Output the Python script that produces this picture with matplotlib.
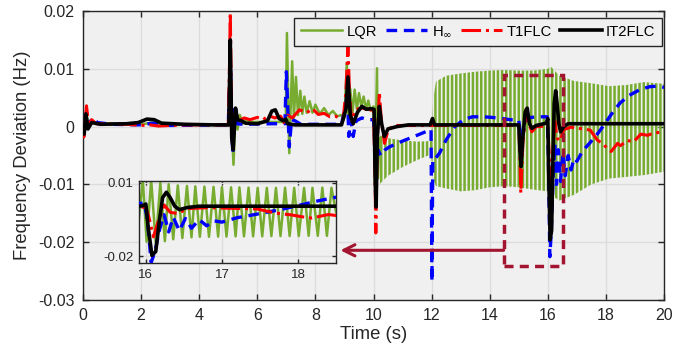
import matplotlib
matplotlib.use('Agg')
import matplotlib.pyplot as plt
from matplotlib.patches import Rectangle

# Fuentes tipo Helvetica (MATLAB)
plt.rcParams['font.family'] = ['Liberation Sans', 'DejaVu Sans']
plt.rcParams['hatch.linewidth'] = 1.8

# ==========================================
# DATOS
# ==========================================
# IT2FLC
it2_t = [0.0, 0.04, 0.10, 0.17, 0.30, 0.60, 1.50, 1.90, 2.20, 2.45, 2.70, 3.50, 4.50,
         5.02, 5.07, 5.12, 5.17, 5.25, 5.32, 5.45, 5.60, 6.00, 6.35, 6.50, 6.62, 6.75,
         6.90, 6.98, 7.04, 7.30, 8.90, 9.05, 9.12, 9.20, 9.30, 9.45, 9.60, 9.75, 9.90,
         10.02, 10.06, 10.09, 10.13, 10.20, 10.28, 10.37, 10.50, 10.80, 11.20, 11.95,
         12.03, 12.10, 15.00, 15.04, 15.08, 15.14, 15.22, 15.29, 15.37, 15.45, 15.60,
         15.95, 16.00, 16.03, 16.08, 16.13, 16.18, 16.22, 16.27, 16.32, 16.38, 16.44,
         16.55, 16.70, 20.0]
it2_v = [0.0, -0.0013, 0.0022, -0.0004, 0.0007, 0.0004, 0.0005, 0.0007, 0.0013, 0.0012,
         0.0006, 0.0004, 0.0003, 0.0003, 0.0150, -0.0020, -0.0040, 0.0032, 0.0012, 0.0010,
         0.0006, 0.0005, 0.0010, 0.0027, 0.0029, 0.0014, 0.0010, 0.0013, 0.0005, 0.0003,
         0.0003, 0.0030, 0.0086, 0.0020, 0.0005, 0.0025, 0.0035, 0.0030, 0.0031, 0.0030,
         -0.0100, -0.0139, -0.0020, 0.0035, 0.0005, -0.0017, -0.0004, 0.0000, 0.0003,
         0.0003, 0.0014, 0.0003, 0.0003, -0.0040, -0.0069, -0.0020, 0.0025, 0.0032,
         0.0005, -0.0003, 0.0002, 0.0006, 0.0014, -0.0080, -0.0196, -0.0180, -0.0050,
         0.0040, 0.0062, 0.0040, 0.0005, -0.0009, 0.0000, 0.0005, 0.0005]

# T1FLC
t1_t = [0.0, 0.03, 0.12, 0.20, 0.30, 0.45, 1.50, 2.00, 2.30, 2.60, 3.50, 5.00, 5.04,
        5.07, 5.11, 5.16, 5.25, 5.35, 5.55, 5.75, 6.00, 6.20, 6.40, 6.60, 6.80, 6.98,
        7.05, 7.20, 7.45, 7.70, 7.90, 8.10, 8.30, 8.50, 8.70, 8.95, 9.05, 9.12, 9.18,
        9.25, 9.40, 9.60, 9.80, 10.00, 10.05, 10.08, 10.13, 10.20, 10.27, 10.38, 10.50,
        10.70, 12.00, 15.00, 15.04, 15.07, 15.14, 15.25, 15.35, 15.45, 15.60, 16.00,
        16.04, 16.10, 16.16, 16.24, 16.32, 16.42, 16.55, 16.80, 17.20, 17.46, 17.70,
        17.90, 18.05, 18.18, 18.40, 18.50, 18.73, 18.96, 19.20, 19.43, 19.66, 20.0]
t1_v = [0.0, -0.0018, 0.0036, 0.0000, 0.0012, 0.0005, 0.0004, 0.0002, 0.0003, 0.0001,
        0.0003, 0.0003, 0.0100, 0.0197, 0.0030, -0.0017, 0.0030, 0.0010, 0.0015, 0.0012,
        0.0016, 0.0012, 0.0019, 0.0015, 0.0018, 0.0002, 0.0020, 0.0015, 0.0029, 0.0024,
        0.0031, 0.0021, 0.0023, 0.0017, 0.0018, 0.0011, 0.0060, 0.0138, 0.0050, 0.0010,
        0.0030, 0.0032, 0.0030, 0.0028, -0.0080, -0.0184, -0.0020, 0.0060, 0.0010,
        -0.0029, -0.0006, 0.0002, 0.0002, 0.0002, -0.0050, -0.0115, -0.0030, 0.0030,
        0.0005, -0.0009, 0.0000, 0.0001, -0.0040, -0.0120, -0.0060, 0.0010, -0.0020,
        -0.0025, -0.0005, -0.0001, -0.0004, -0.0006, -0.0023, -0.0030, -0.0038, -0.0043,
        -0.0029, -0.0033, -0.0024, -0.0026, -0.0013, -0.0015, -0.0011, -0.0009]

# H infinito
hinf_t = [0.0, 0.04, 0.12, 0.20, 0.32, 0.50, 1.00, 2.00, 2.40, 3.00, 5.00, 5.05, 5.08,
          5.12, 5.16, 5.22, 5.30, 5.50, 6.50, 6.95, 7.00, 7.05, 7.10, 7.18, 7.30, 7.50,
          8.90, 9.05, 9.10, 9.15, 9.22, 9.30, 9.40, 9.60, 9.80, 10.00, 10.05, 10.10,
          10.15, 10.25, 10.40, 10.55, 11.00, 11.50, 11.98, 12.01, 12.04, 12.10, 12.27,
          12.50, 12.80, 13.10, 13.40, 13.80, 14.30, 14.70, 15.00, 15.08, 15.30, 15.60,
          15.98, 16.02, 16.07, 16.12, 16.18, 16.24, 16.30, 16.36, 16.44, 16.52, 16.60,
          16.70, 16.80, 16.90, 17.00, 17.20, 17.45, 17.75, 18.02, 18.25, 18.49, 18.80,
          19.17, 19.50, 19.75, 20.0]
hinf_v = [0.0, -0.0010, 0.0025, 0.0003, 0.0015, 0.0007, 0.0004, 0.0003, 0.0006, 0.0002,
          0.0003, 0.0080, 0.0100, -0.0010, -0.0048, 0.0030, 0.0005, 0.0004, 0.0005,
          0.0005, 0.0095, 0.0030, -0.0035, 0.0012, 0.0010, 0.0004, 0.0004, 0.0040,
          0.0058, -0.0017, 0.0012, -0.0017, 0.0010, 0.0015, 0.0012, 0.0012, -0.0030,
          -0.0060, -0.0040, -0.0050, -0.0040, -0.0035, -0.0025, -0.0015, -0.0005,
          -0.0268, -0.0057, -0.0057, -0.0046, -0.0023, 0.0000, 0.0012, 0.0017, 0.0017,
          0.0015, 0.0012, 0.0011, -0.0020, 0.0015, 0.0017, 0.0017, -0.0050, -0.0225,
          -0.0180, -0.0090, -0.0030, -0.0100, -0.0040, -0.0095, -0.0045, -0.0085,
          -0.0050, -0.0075, -0.0055, -0.0060, -0.0042, -0.0028, -0.0010, 0.0009, 0.0026,
          0.0041, 0.0054, 0.0064, 0.0069, 0.0070, 0.0068]

# LQR: tramo de linea (0 - 10.2 s)
lqr_t = [0.0, 0.05, 0.12, 0.20, 0.30, 0.50, 2.00, 2.40, 3.00, 5.00, 5.04, 5.07, 5.12,
         5.18, 5.25, 5.32, 5.40, 5.50, 5.60, 5.80, 6.50, 6.98, 7.02, 7.10, 7.20, 7.26,
         7.33, 7.40, 7.48, 7.55, 7.62, 7.70, 7.80, 7.90, 8.00, 8.15, 8.30, 8.45, 8.60,
         8.75, 8.90, 9.00, 9.08, 9.14, 9.20, 9.27, 9.35, 9.43, 9.50, 9.58, 9.66, 9.74,
         9.82, 9.90, 10.00, 10.05, 10.12, 10.15, 10.20]
lqr_v = [0.0, -0.0010, 0.0020, 0.0003, 0.0010, 0.0006, 0.0004, 0.0007, 0.0003, 0.0003,
         0.0090, 0.0130, 0.0000, -0.0066, 0.0025, -0.0005, 0.0020, 0.0005, 0.0012,
         0.0008, 0.0008, 0.0008, 0.0162, -0.0046, 0.0113, 0.0015, 0.0086, 0.0020,
         0.0062, 0.0022, 0.0052, 0.0024, 0.0044, 0.0024, 0.0038, 0.0022, 0.0032, 0.0020,
         0.0027, 0.0018, 0.0020, 0.0015, 0.0110, 0.0010, 0.0065, 0.0020, 0.0064, 0.0030,
         0.0058, 0.0035, 0.0052, 0.0030, 0.0045, 0.0028, 0.0035, -0.0098, 0.0101,
         -0.0090, -0.0020]

# LQR: envolvente de la oscilacion rapida (10.2 - 20 s)
band_t = [10.2, 10.5, 11.0, 11.5, 11.98, 12.05, 12.15, 12.5, 13.0, 13.5, 14.0, 14.5,
          15.0, 15.5, 16.0, 16.1, 16.4, 16.9, 17.5, 18.1, 18.7, 19.3, 20.0]
band_hi = [-0.0015, -0.0020, -0.0024, -0.0026, -0.0025, 0.0045, 0.0078, 0.0088, 0.0092,
           0.0095, 0.0097, 0.0098, 0.0097, 0.0097, 0.0100, 0.0104, 0.0088, 0.0079,
           0.0075, 0.0070, 0.0072, 0.0077, 0.0074]
band_lo = [-0.0100, -0.0085, -0.0070, -0.0058, -0.0048, -0.0090, -0.0103, -0.0107,
           -0.0112, -0.0110, -0.0105, -0.0103, -0.0105, -0.0109, -0.0112, -0.0118,
           -0.0128, -0.0118, -0.0100, -0.0090, -0.0087, -0.0084, -0.0078]

# LQR en el zoom: picos y valles
lqr_zoom_t = [15.90, 15.96, 16.01, 16.07, 16.13, 16.19, 16.25, 16.30, 16.36, 16.42,
              16.48, 16.54, 16.60, 16.65, 16.71, 16.77, 16.83, 16.89, 16.95, 17.00,
              17.06, 17.12, 17.18, 17.23, 17.29, 17.35, 17.41, 17.47, 17.53, 17.59,
              17.65, 17.71, 17.77, 17.83, 17.89, 17.95, 18.01, 18.08, 18.14, 18.19,
              18.26, 18.32, 18.38, 18.44, 18.50]
lqr_zoom_v = [-0.0080, 0.0115, -0.0140, 0.0112, -0.0145, 0.0100, -0.0138, 0.0095,
              -0.0130, 0.0090, -0.0125, 0.0088, -0.0122, 0.0086, -0.0120, 0.0085,
              -0.0120, 0.0084, -0.0119, 0.0083, -0.0119, 0.0082, -0.0118, 0.0082,
              -0.0118, 0.0081, -0.0118, 0.0080, -0.0118, 0.0080, -0.0117, 0.0080,
              -0.0117, 0.0081, -0.0117, 0.0080, -0.0117, 0.0080, -0.0116, 0.0080,
              -0.0116, 0.0081, -0.0116, 0.0080, -0.0020]

x_ticks = [0, 2, 4, 6, 8, 10, 12, 14, 16, 18, 20]
y_ticks = [-0.03, -0.02, -0.01, 0.0, 0.01, 0.02]
y_labels = ['-0.03', '-0.02', '-0.01', '0', '0.01', '0.02']
zoom_x_ticks = [16, 17, 18]
zoom_y_ticks = [-0.02, 0.01]
zoom_y_labels = ['-0.02', '0.01']
series_names = ['LQR', r'H$_\infty$', 'T1FLC', 'IT2FLC']

# zona ampliada (t0, t1, v0, v1) y flecha
box_t = [14.48, 16.53]
box_v = [-0.0241, 0.0089]
arrow_v = -0.0214
arrow_tip_t = 8.86

# ==========================================
# ESTILO
# ==========================================
C_LQR = '#77AC30'
C_HINF = '#0000FF'
C_T1 = '#FF0000'
C_IT2 = '#000000'
C_BOX = '#A2142F'
BG = '#F0F0F0'
GRID = '#DCDCDC'
DARK = '#262626'


def style_axes(ax, size, pad):
    ax.set_facecolor(BG)
    ax.grid(True, color=GRID, lw=1)
    ax.set_axisbelow(True)
    ax.tick_params(direction='in', top=True, right=True, length=4, width=1,
                   colors=DARK, labelsize=size, labelcolor=DARK, pad=pad)
    for s in ax.spines.values():
        s.set_color(DARK)
        s.set_linewidth(1)


def draw_series(ax):
    ax.plot(hinf_t, hinf_v, color=C_HINF, lw=2.4, ls=(0, (3.2, 2.0)), zorder=3)
    ax.plot(t1_t, t1_v, color=C_T1, lw=2.2, ls='-.', zorder=4)
    ax.plot(it2_t, it2_v, color=C_IT2, lw=2.6, zorder=5)


fig = plt.figure(figsize=(6.94, 3.49), dpi=100)
ax = fig.add_axes([0.1196, 0.1404, 0.8372, 0.828])
style_axes(ax, 11.5, 6)

# LQR
h_lqr, = ax.plot(lqr_t, lqr_v, color=C_LQR, lw=1.8, zorder=2)
ax.fill_between(band_t, band_lo, band_hi, facecolor='none', edgecolor=C_LQR,
                hatch='||||', lw=0, zorder=2)
h_hinf, = ax.plot([], [], color=C_HINF, lw=2.4, ls=(0, (3.2, 2.0)))
h_t1, = ax.plot([], [], color=C_T1, lw=2.2, ls='-.')
h_it2, = ax.plot([], [], color=C_IT2, lw=2.6)
draw_series(ax)

ax.add_patch(Rectangle((box_t[0], box_v[0]), box_t[1] - box_t[0], box_v[1] - box_v[0],
                       fill=False, edgecolor=C_BOX, lw=2.5, ls=(0, (2.6, 1.8)), zorder=6))
ax.annotate('', xy=(arrow_tip_t, arrow_v), xytext=(box_t[0], arrow_v),
            arrowprops=dict(arrowstyle='->,head_length=0.8,head_width=0.4',
                            color=C_BOX, lw=2.2, shrinkA=0, shrinkB=0), zorder=6)

ax.set_xlim(0, 20)
ax.set_ylim(-0.03, 0.02)
ax.set_xticks(x_ticks)
ax.set_yticks(y_ticks)
ax.set_yticklabels(y_labels)
ax.set_xlabel('Time (s)', fontsize=13.3, color=DARK, labelpad=2)
ax.set_ylabel('Frequency Deviation (Hz)', fontsize=13.3, color=DARK, labelpad=5)

leg = ax.legend([h_lqr, h_hinf, h_t1, h_it2], series_names, ncol=4, loc='upper right',
                bbox_to_anchor=(0.9966, 0.9758), borderaxespad=0, fontsize=10.6,
                handlelength=2.8, handletextpad=0.3, columnspacing=0.6,
                borderpad=0.45, fancybox=False, framealpha=1, facecolor=BG,
                edgecolor=DARK)
leg.get_frame().set_linewidth(1)
leg.set_zorder(7)

# ==========================================
# ZOOM
# ==========================================
axin = fig.add_axes([0.2003, 0.2464, 0.2839, 0.235])
axin.set_zorder(10)
style_axes(axin, 9.5, 4)
axin.tick_params(length=3)
axin.plot(lqr_zoom_t, lqr_zoom_v, color=C_LQR, lw=1.8, zorder=2)
draw_series(axin)
axin.set_xlim(15.91, 18.5)
axin.set_ylim(-0.0227, 0.0108)
axin.set_xticks(zoom_x_ticks)
axin.set_yticks(zoom_y_ticks)
axin.set_yticklabels(zoom_y_labels)

fig.savefig('out.png', dpi=100, facecolor='white')
